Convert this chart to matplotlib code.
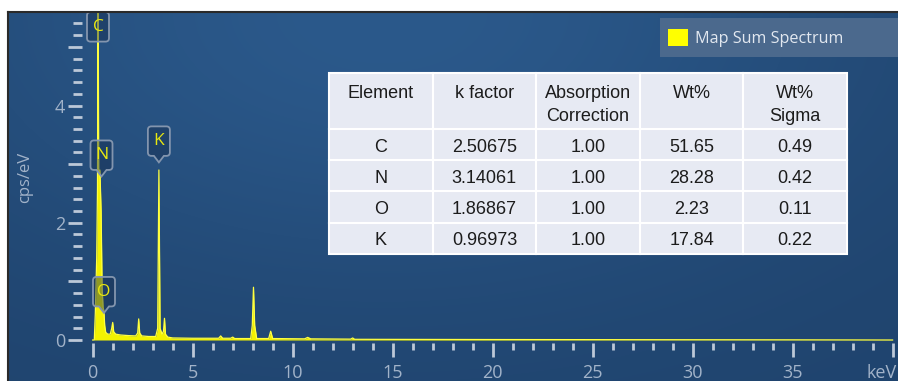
import numpy as np
import matplotlib
matplotlib.use("Agg")
import matplotlib.pyplot as plt
from matplotlib.patches import Rectangle, PathPatch
from matplotlib.path import Path
from matplotlib.lines import Line2D
import matplotlib.transforms as mtransforms
from matplotlib.ticker import MultipleLocator, FixedLocator, FixedFormatter

# ---------------- data ----------------
energy_kev = [0.0, 0.08, 0.13, 0.20, 0.24, 0.27, 0.30, 0.36, 0.42, 0.47, 0.52,
              0.56, 0.60, 0.65, 0.75, 0.88, 0.95, 1.00, 1.05, 1.15, 1.40, 1.80,
              2.15, 2.25, 2.30, 2.35, 2.45, 2.80, 3.15, 3.25, 3.31, 3.37, 3.47,
              3.54, 3.59, 3.64, 3.75, 4.00, 5.00, 6.30, 6.40, 6.50, 6.90, 7.00,
              7.10, 7.90, 7.98, 8.04, 8.10, 8.20, 8.80, 8.90, 9.00, 10.60, 10.75,
              10.90, 12.90, 13.00, 13.10, 20.00, 35.00, 40.00]
counts_cps = [0.0, 0.0, 0.45, 1.40, 2.60, 6.20, 2.85, 2.90, 2.20, 0.90, 0.55,
              0.50, 0.25, 0.13, 0.10, 0.10, 0.20, 0.30, 0.14, 0.10, 0.085, 0.075,
              0.07, 0.12, 0.36, 0.12, 0.07, 0.06, 0.06, 0.20, 2.90, 0.20, 0.10,
              0.15, 0.37, 0.10, 0.05, 0.035, 0.03, 0.03, 0.07, 0.03, 0.03, 0.05,
              0.025, 0.025, 0.25, 0.90, 0.25, 0.025, 0.025, 0.15, 0.025, 0.02, 0.045,
              0.02, 0.015, 0.035, 0.012, 0.008, 0.003, 0.0]

peak_labels = ["C", "N", "O", "K"]
peak_label_kev = [0.265, 0.44, 0.565, 3.31]
peak_label_cps = [5.09, 2.79, 0.462, 3.03]
peak_label_pointer = [False, True, True, True]

x_tick_values = [0, 5, 10, 15, 20, 25, 30, 35, 40]
x_tick_labels = ["0", "5", "10", "15", "20", "25", "30", "35", "keV"]
y_tick_values = [0, 1, 2, 3, 4, 5]
y_tick_labels = ["0", "", "2", "", "4", ""]

series_name = "Map Sum Spectrum"
y_label = "cps/eV"

table_columns = ["Element\n ", "k factor\n ", "Absorption\nCorrection", "Wt%\n ", "Wt%\nSigma"]
table_elements = ["C", "N", "O", "K"]
k_factor = ["2.50675", "3.14061", "1.86867", "0.96973"]
absorption_corr = ["1.00", "1.00", "1.00", "1.00"]
wt_pct = ["51.65", "28.28", "2.23", "17.84"]
wt_sigma = ["0.49", "0.42", "0.11", "0.22"]

# ---------------- figure ----------------
W, H = 898, 381
fig = plt.figure(figsize=(W / 100, H / 100), dpi=100, facecolor="white")


def fx(px):
    return px / W


def fy(py):
    return 1 - py / H


# background panel with gradient
bg = fig.add_axes([fx(8), 0, 1 - fx(8), fy(12)], zorder=0)
gh, gw = 369, 890
yy, xx = np.mgrid[0:1:gh * 1j, 0:1:gw * 1j]
base = np.array([0x1f, 0x43, 0x6d]) / 255.0
spot = np.array([0x0c, 0x16, 0x1e]) / 255.0
d2 = ((xx - 0.42) / 0.55) ** 2 + ((yy - 0.0) / 0.75) ** 2
w = np.exp(-d2)
img = base[None, None, :] + w[:, :, None] * spot[None, None, :]
bg.imshow(img, aspect="auto", extent=[0, 1, 0, 1], origin="upper", interpolation="bilinear")
bg.set_xlim(0, 1)
bg.set_ylim(0, 1)
bg.axis("off")

# frame lines
fig.add_artist(Line2D([fx(8), fx(8)], [0, fy(11.5)], color="#2a2a2a", lw=1.5, zorder=5))
fig.add_artist(Line2D([fx(8), 1], [fy(11.5), fy(11.5)], color="#2a2a2a", lw=1.5, zorder=5))

# legend box background
bg.add_patch(Rectangle((fx(660), fy(57)), 1 - fx(660) + 0.01, fy(18) - fy(57),
                       transform=fig.transFigure, facecolor="#4b698d", edgecolor="none",
                       clip_on=False, zorder=3))

# main axes
ax = fig.add_axes([fx(82), fy(343), 1 - fx(82), fy(12) - fy(343)], zorder=1)
ax.set_facecolor("none")
ax.set_xlim(-0.535, 40.27)
ax.set_ylim(-0.051, 5.595)
for s in ax.spines.values():
    s.set_visible(False)

spec_fill = ax.fill_between(energy_kev, 0, counts_cps, color="#f2f200", lw=0, zorder=3,
                            label=series_name)
ax.plot(energy_kev, counts_cps, color="#ffff40", lw=0.9, zorder=4)

ax.xaxis.set_major_locator(FixedLocator(x_tick_values))
ax.xaxis.set_major_formatter(FixedFormatter(x_tick_labels))
ax.xaxis.set_minor_locator(MultipleLocator(1))
ax.yaxis.set_major_locator(FixedLocator(y_tick_values))
ax.yaxis.set_major_formatter(FixedFormatter(y_tick_labels))
ax.yaxis.set_minor_locator(MultipleLocator(0.2))

tick_color = "#bcc8d8"
label_color = "#a2b3c9"
tick_font = "Open Sans"
ax.tick_params(axis="x", which="major", direction="out", length=10, width=2,
               color=tick_color, labelcolor=label_color, labelsize=13, pad=5)
ax.tick_params(axis="x", which="minor", direction="out", length=5, width=2, color=tick_color)
ax.tick_params(axis="y", which="major", direction="out", length=10, width=2,
               color=tick_color, labelcolor=label_color, labelsize=13, pad=2)
ax.tick_params(axis="y", which="minor", direction="out", length=6.5, width=2, color=tick_color)
for lab in ax.get_xticklabels() + ax.get_yticklabels():
    lab.set_fontfamily(tick_font)

# shift the last x tick label ("keV") slightly left so it stays inside the picture
last_lab = ax.xaxis.get_major_ticks()[-1].label1
last_lab.set_transform(last_lab.get_transform() +
                       mtransforms.ScaledTranslation(-0.105, 0, fig.dpi_scale_trans))

ax.set_ylabel(y_label, color=label_color, fontsize=12, fontfamily=tick_font)
ax.yaxis.set_label_coords((33 - 82) / (898 - 82), 0.5)

# peak callouts
def callout_path(w, h, p, pw, r):
    hw = w / 2
    verts = [(0, 0), (pw, p), (hw - r, p), (hw, p), (hw, p + r), (hw, p + h - r),
             (hw, p + h), (hw - r, p + h), (-hw + r, p + h), (-hw, p + h),
             (-hw, p + h - r), (-hw, p + r), (-hw, p), (-hw + r, p), (-pw, p), (0, 0)]
    codes = [Path.MOVETO, Path.LINETO, Path.LINETO, Path.CURVE3, Path.CURVE3,
             Path.LINETO, Path.CURVE3, Path.CURVE3, Path.LINETO, Path.CURVE3,
             Path.CURVE3, Path.LINETO, Path.CURVE3, Path.CURVE3, Path.LINETO,
             Path.CLOSEPOLY]
    return Path(verts, codes)


for lab, xk, yc, has_ptr in zip(peak_labels, peak_label_kev, peak_label_cps, peak_label_pointer):
    bw, bh = 0.22, 0.295
    p = 0.065 if has_ptr else 0.0
    pw = 0.05 if has_ptr else 0.0
    trans = fig.dpi_scale_trans + mtransforms.ScaledTranslation(xk, yc, ax.transData)
    patch = PathPatch(callout_path(bw, bh, p, pw, 0.035), transform=trans,
                      facecolor=(0.09, 0.18, 0.31, 0.45), edgecolor="#8395ae",
                      lw=1.3, zorder=6, clip_on=False)
    ax.add_patch(patch)
    ax.annotate(lab, xy=(xk, yc), xytext=(0, (p + bh / 2) * 72), textcoords="offset points",
                ha="center", va="center", color="#e8e810", fontsize=12.5,
                fontfamily=tick_font, zorder=7, annotation_clip=False)

# legend
leg = ax.legend(handles=[spec_fill], labels=[series_name], loc="center left",
                bbox_to_anchor=(fx(668), fy(38)), bbox_transform=fig.transFigure,
                frameon=False, handlelength=1.25, handleheight=1.25, handletextpad=0.45,
                borderpad=0, borderaxespad=0,
                prop={"family": tick_font, "size": 11.6})
for t in leg.get_texts():
    t.set_color("#e2e8f0")
for hnd in leg.legend_handles:
    hnd.set_facecolor("#ffff00")
    hnd.set_edgecolor("#ffff00")

# table
tax = fig.add_axes([fx(329), fy(254), fx(847) - fx(329), fy(73) - fy(254)], zorder=2)
tax.axis("off")
rows = [list(r) for r in zip(table_elements, k_factor, absorption_corr, wt_pct, wt_sigma)]
tbl = tax.table(cellText=rows, colLabels=table_columns, cellLoc="center", bbox=[0, 0, 1, 1])
tbl.auto_set_font_size(False)
tbl.set_fontsize(13)
for (r, c), cell in tbl.get_celld().items():
    cell.set_height(56 if r == 0 else 31.25)
    cell.set_width(1.0)
    cell.set_facecolor("#e7eaf3")
    cell.set_edgecolor("white")
    cell.set_linewidth(1.5)
    txt = cell.get_text()
    txt.set_fontfamily("Liberation Sans")
    txt.set_color("#1c1c1c")
    txt.set_linespacing(1.5)
    shift = -0.04 if r == 0 else -0.025
    txt.set_transform(mtransforms.ScaledTranslation(0, shift, fig.dpi_scale_trans))

fig.savefig("out.png", dpi=100, facecolor="white")
